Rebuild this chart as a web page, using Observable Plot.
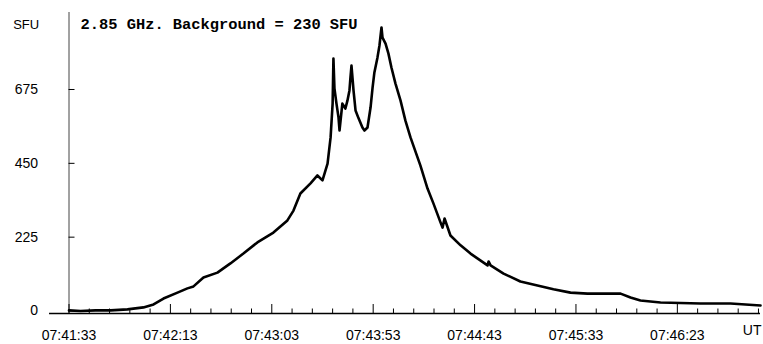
<!DOCTYPE html>
<html><head><meta charset="utf-8">
<script src="https://cdn.jsdelivr.net/npm/d3@7"></script>
<script src="https://cdn.jsdelivr.net/npm/@observablehq/plot@0.6"></script>
<style>
body{margin:0;background:#fff;}
#wrap{width:763px;height:344px;}
</style></head><body><div id="wrap"></div>
<script>
// Seconds after 07:41:33 (axis spacing: 50 s per major tick)
const timeSec = [0, 5.7, 13.1, 20.5, 28.8, 36.7, 41.7, 46.6, 53.5, 58.4, 61.4, 66.3, 73.2, 79.6, 86.0, 92.9,
  100.8, 107.7, 110.7, 114.1, 119.1, 122.5, 125.0, 127.5, 129.0, 130.0, 130.4, 130.9, 131.9, 132.9, 133.4,
  134.8, 136.3, 137.3, 138.3, 138.8, 139.3, 140.3, 141.3, 142.8, 144.7, 145.7, 147.2, 148.7, 149.7, 150.6,
  152.1, 153.1, 154.1, 154.6, 156.1, 157.5, 159.0, 161.0, 163.5, 165.9, 168.4, 173.3, 176.8, 179.7, 183.2,
  184.2, 185.2, 188.1, 193.1, 198.0, 206.4, 206.9, 207.9, 214.3, 222.6, 231.0, 238.9, 247.3, 255.7, 262.1,
  272.0, 276.9, 281.8, 291.7, 311.4, 326.2, 341.0];
// Flux above background, SFU
const sfu = [2, 0, 2, 2, 5, 11, 20, 38, 56, 69, 75, 102, 117, 145, 175, 209,
  239, 276, 306, 358, 389, 413, 398, 449, 529, 632, 769, 678, 632, 590, 550,
  632, 617, 641, 672, 712, 748, 672, 611, 587, 559, 550, 559, 620, 681, 727,
  772, 809, 864, 833, 815, 785, 742, 693, 641, 580, 529, 443, 373, 328, 270,
  254, 282, 230, 200, 175, 139, 151, 139, 114, 90, 78, 66, 56, 53, 53,
  53, 41, 32, 26, 23, 23, 17];

const majorTicks = [0, 50, 100, 150, 200, 250, 300];
const tickLabels = ["07:41:33", "07:42:13", "07:43:03", "07:43:53", "07:44:43", "07:45:33", "07:46:23"];
const minorTicks = [10, 20, 30, 40, 60, 70, 80, 90, 110, 120, 130, 140, 160, 170, 180, 190, 210, 220, 230, 240,
  260, 270, 280, 290, 310, 320, 330, 340];
const yTicks = [0, 225, 450, 675];
const yUnit = "SFU";
const xUnit = "UT";
const title = "2.85 GHz. Background = 230 SFU";

const data = timeSec.map((t, i) => ({t, v: sfu[i]}));
const labelMap = new Map(majorTicks.map((d, i) => [d, tickLabels[i]]));
const yMin = -7.6, yMax = 909.6, xMin = 0, xMax = 341, xLeftExt = -9.6;

const chart = Plot.plot({
  width: 763, height: 344,
  marginLeft: 68.5, marginRight: 3, marginTop: 12, marginBottom: 31,
  x: {domain: [xMin, xMax], label: null},
  y: {domain: [yMin, yMax], label: null},
  style: {fontFamily: "'Liberation Sans', Arial, sans-serif", fontSize: "14px", color: "#000", background: "#fff"},
  marks: [
    Plot.ruleY([yMin], {x1: xLeftExt, x2: xMax, stroke: "#000", strokeWidth: 1.3}),
    Plot.ruleX([0], {stroke: "#444", strokeWidth: 1}),
    Plot.axisY({ticks: yTicks, tickSize: -6, tickPadding: 37, label: null, fontSize: 14}),
    Plot.axisX({ticks: majorTicks, tickFormat: d => labelMap.get(d), tickSize: -9, tickPadding: 25.6, label: null, fontSize: 14}),
    Plot.axisX({ticks: minorTicks, tickFormat: () => "", tickSize: -4.5, label: null}),
    Plot.line(data, {x: "t", y: "v", stroke: "#000", strokeWidth: 2.6, strokeLinejoin: "round"}),
    Plot.text([{t: 336.9, s: xUnit}], {x: "t", text: "s", frameAnchor: "bottom", dy: 21.5, fontSize: 14}),
    Plot.text([yUnit], {frameAnchor: "top-left", textAnchor: "start", dx: -55.8, dy: 7.5, fontSize: 13}),
    Plot.text([title], {frameAnchor: "top-left", textAnchor: "start", dx: 11.5, dy: 6,
      fontFamily: "'Liberation Mono', 'DejaVu Sans Mono', monospace", fontWeight: "bold", fontSize: 15.4})
  ]
});
document.getElementById("wrap").appendChild(chart);
</script>
</body></html>
